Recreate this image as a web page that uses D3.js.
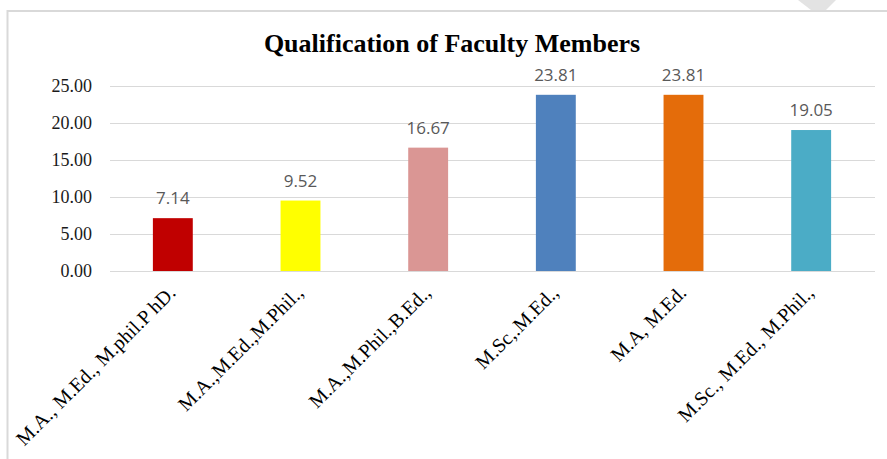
<!DOCTYPE html>
<html>
<head>
<meta charset="utf-8">
<script src="https://cdn.jsdelivr.net/npm/d3@7"></script>
<style>
  body { margin: 0; background: #fff; }
  svg { display: block; }
</style>
</head>
<body>
<svg></svg>
<script>
var categories = ["M.A., M.Ed., M.phil.P hD.", "M.A.,M.Ed.,M.Phil.,", "M.A.,M.Phil.,B.Ed.,",
                  "M.Sc,.M.Ed.,", "M.A, M.Ed.", "M.Sc., M.Ed., M.Phil.,"];
var values = [7.14, 9.52, 16.67, 23.81, 23.81, 19.05];
var barColors = ["#c00000", "#ffff00", "#da9694", "#4f81bd", "#e46c0a", "#4bacc6"];
var yTicks = [0, 5, 10, 15, 20, 25];

var width = 887;
var height = 459;

var svg = d3.select("svg").attr("width", width).attr("height", height);

// chart frame (picture is cropped, so only top/left edges show)
svg.append("rect")
    .attr("x", 7.5).attr("y", 11)
    .attr("width", width + 20).attr("height", height + 20)
    .attr("fill", "none")
    .attr("stroke", "#d9d9d9")
    .attr("stroke-width", 2);

// bit of watermark poking in at the top right
svg.append("polygon")
    .attr("points", "798,0 836,0 826,10 811,10")
    .attr("fill", "#e3e3e3");

svg.append("text")
    .attr("x", 452).attr("y", 52)
    .attr("text-anchor", "middle")
    .style("font-family", "'Liberation Serif', 'Times New Roman', serif")
    .style("font-weight", "bold")
    .style("font-size", "26px")
    .attr("fill", "#000")
    .text("Qualification of Faculty Members");

var x = d3.scaleBand()
    .domain(categories)
    .range([109, 875])
    .paddingInner(0.6875)
    .paddingOuter(0.34375);

var y = d3.scaleLinear()
    .domain([0, 25])
    .range([271, 86]);

// gridlines + tick labels
var yAxis = d3.axisLeft(y)
    .tickValues(yTicks)
    .tickSize(-(875 - 110))
    .tickPadding(18)
    .tickFormat(d3.format(".2f"));

var gy = svg.append("g")
    .attr("transform", "translate(110,0)")
    .call(yAxis);
gy.select(".domain").remove();
gy.selectAll(".tick line").attr("stroke", "#d9d9d9").attr("stroke-width", 1);
gy.selectAll(".tick text")
    .style("font-family", "'Liberation Serif', 'Times New Roman', serif")
    .style("font-size", "18px")
    .attr("fill", "#1a1a1a");

svg.selectAll("rect.bar")
    .data(values)
  .enter().append("rect")
    .attr("class", "bar")
    .attr("x", (d, i) => x(categories[i]))
    .attr("y", d => y(d))
    .attr("width", x.bandwidth())
    .attr("height", d => y(0) - y(d))
    .attr("fill", (d, i) => barColors[i]);

svg.selectAll("text.val")
    .data(values)
  .enter().append("text")
    .attr("class", "val")
    .attr("x", (d, i) => x(categories[i]) + x.bandwidth() / 2)
    .attr("y", d => y(d) - 14)
    .attr("text-anchor", "middle")
    .style("font-family", "'Open Sans', sans-serif")
    .style("font-size", "17px")
    .attr("fill", "#595959")
    .text(d => d.toFixed(2));

// slanted category labels
var xAxis = d3.axisBottom(x).tickSize(0).tickPadding(0);
var gx = svg.append("g")
    .attr("transform", "translate(0,271)")
    .call(xAxis);
gx.select(".domain").remove();
gx.selectAll(".tick text")
    .attr("text-anchor", "end")
    .attr("y", 0).attr("dy", 0)
    .attr("transform", "translate(4,23) rotate(-45)")
    .style("font-family", "'Liberation Serif', 'Times New Roman', serif")
    .style("font-size", "20px")
    .attr("fill", "#000");
</script>
</body>
</html>
